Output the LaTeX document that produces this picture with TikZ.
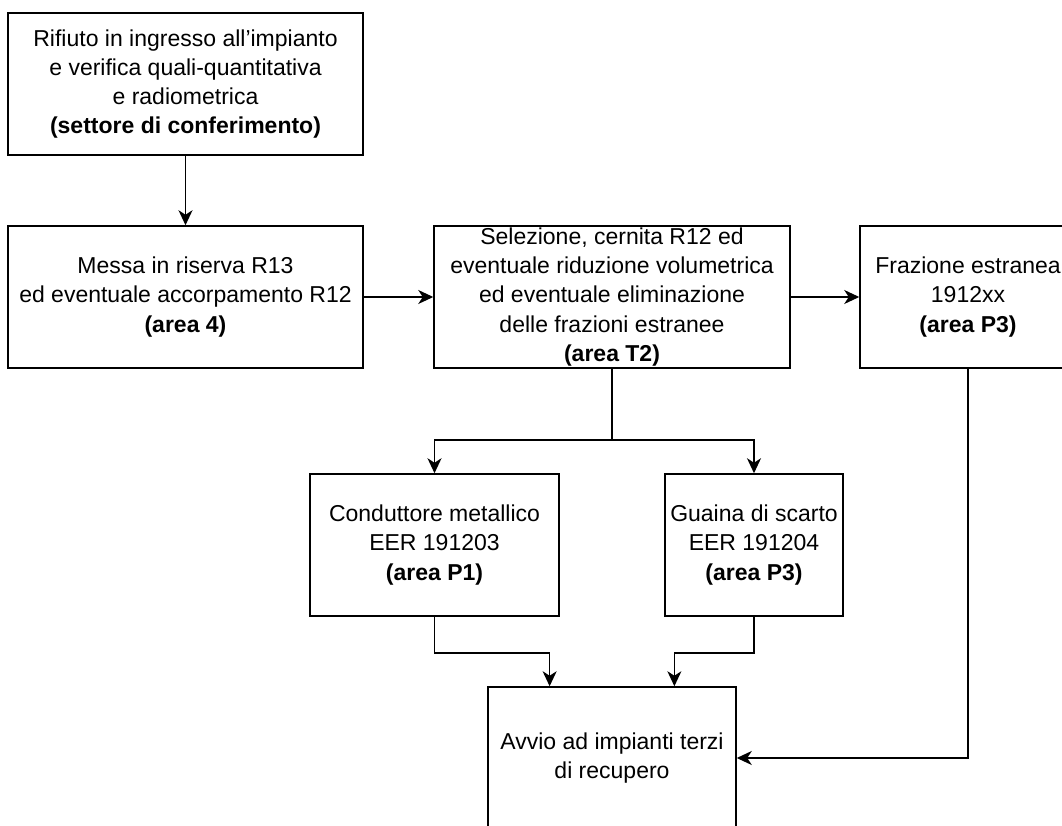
\documentclass[tikz,border=0pt]{standalone}
\usepackage{fontspec}
\setmainfont{Liberation Sans}
\usetikzlibrary{arrows.meta, calc}

\begin{document}
\begin{tikzpicture}[x=1pt, y=1pt,
  box/.style={draw, line width=1.5pt, align=center, inner sep=0pt,
    font=\fontsize{23}{29.2}\selectfont, minimum height=142pt},
  flow/.style={line width=1.6pt, -{Stealth[length=15pt, width=14pt, inset=4.5pt]}}]
  \useasboundingbox (0,0) rectangle (1062,825);

  % Boxes
  \node[box, minimum width=355pt] (conferimento) at (185.5,741)
    {Rifiuto in ingresso all’impianto\\e verifica quali-quantitativa\\e radiometrica\\\textbf{(settore di conferimento)}};
  \node[box, minimum width=355pt] (riserva) at (185.5,528)
    {Messa in riserva R13\\ed eventuale accorpamento R12\\\textbf{(area 4)}};
  \node[box, minimum width=356pt] (selezione) at (612,528)
    {Selezione, cernita R12 ed\\eventuale riduzione volumetrica\\ed eventuale eliminazione\\delle frazioni estranee\\\textbf{(area T2)}};
  \node[box, minimum width=216pt] (estranea) at (968,528)
    {Frazione estranea\\1912xx\\\textbf{(area P3)}};
  \node[box, minimum width=249pt] (conduttore) at (434.5,280)
    {Conduttore metallico\\EER 191203\\\textbf{(area P1)}};
  \node[box, minimum width=178pt] (guaina) at (754,280)
    {Guaina di scarto\\EER 191204\\\textbf{(area P3)}};
  \node[box, minimum width=248pt] (avvio) at (612,67)
    {Avvio ad impianti terzi\\di recupero};

  % Connectors
  \draw[flow] (conferimento) -- (riserva);
  \draw[flow] (riserva) -- (selezione);
  \draw[flow] (selezione) -- (estranea);
  \draw[flow] (selezione.south) -- ++(0,-71) -| (conduttore.north);
  \draw[flow] (selezione.south) -- ++(0,-71) -| (guaina.north);
  \draw[flow] (conduttore.south) -- ++(0,-36) -| ($(avvio.north west)!0.25!(avvio.north east)$);
  \draw[flow] (guaina.south) -- ++(0,-36) -| ($(avvio.north west)!0.75!(avvio.north east)$);
  \draw[flow] (estranea.south) |- (avvio.east);
\end{tikzpicture}
\end{document}
